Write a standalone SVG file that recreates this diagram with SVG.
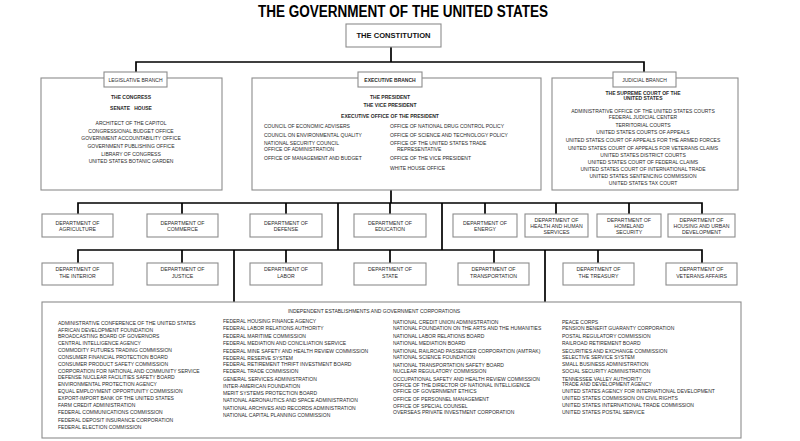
<svg xmlns="http://www.w3.org/2000/svg" width="800" height="441" viewBox="0 0 800 441">
<style>
text{font-family:"Liberation Sans",Arial,sans-serif;fill:#2a2a2a;font-size:5px}
.c{text-anchor:middle}
.b{font-weight:bold}
.d{font-size:5.2px;text-anchor:middle}
.box{fill:#fff;stroke:#8c8c8c;stroke-width:1.1}
.ln{stroke:#000;stroke-width:1.7;fill:none}
</style>
<rect width="800" height="441" fill="#fff"/>
<text x="403" y="17" class="c b" style="font-size:16px;fill:#000" textLength="290" lengthAdjust="spacingAndGlyphs">THE GOVERNMENT OF THE UNITED STATES</text>

<g id="connectors">
<path class="ln" d="M391 47V62M136 72V62H644V72M391 190V203M78 214V203H702V214M182 203V214M286 203V214M390 203V214M485 203V214M556 203V214M629 203V214M338 203V250M442 203V250M78 263V250H702V263M182 250V263M286 250V263M390 250V263M494 250V263M598 250V263M234 250V302M545 250V302"/>
</g>

<g id="constitution">
<rect class="box" x="346" y="24" width="95" height="23"/>
<text x="393.5" y="38" class="c b" style="font-size:7px;fill:#111" textLength="74" lengthAdjust="spacingAndGlyphs">THE CONSTITUTION</text>
</g>

<g id="legislative">
<rect class="box" x="41" y="78" width="181" height="112"/>
<rect class="box" x="104" y="72" width="63" height="15"/>
<text x="135.5" y="81.5" class="c">LEGISLATIVE BRANCH</text>
<text x="131" y="98.8" class="c b">THE CONGRESS</text>
<text x="131" y="109.8" class="c b" xml:space="preserve">SENATE   HOUSE</text>
<text x="131" y="124.8" class="c">ARCHITECT OF THE CAPITOL</text>
<text x="131" y="132.6" class="c">CONGRESSIONAL BUDGET OFFICE</text>
<text x="131" y="140.4" class="c">GOVERNMENT ACCOUNTABILITY OFFICE</text>
<text x="131" y="148.2" class="c">GOVERNMENT PUBLISHING OFFICE</text>
<text x="131" y="156" class="c">LIBRARY OF CONGRESS</text>
<text x="131" y="163" class="c">UNITED STATES BOTANIC GARDEN</text>
</g>

<g id="executive">
<rect class="box" x="252" y="78" width="289" height="112"/>
<rect class="box" x="358" y="72" width="64" height="15"/>
<text x="390" y="81.5" class="c b">EXECUTIVE BRANCH</text>
<text x="390" y="98.8" class="c b">THE PRESIDENT</text>
<text x="390" y="106.8" class="c b">THE VICE PRESIDENT</text>
<text x="390" y="117.8" class="c b">EXECUTIVE OFFICE OF THE PRESIDENT</text>
<text x="264" y="127.8">COUNCIL OF ECONOMIC ADVISERS</text>
<text x="264" y="136.8">COUNCIL ON ENVIRONMENTAL QUALITY</text>
<text x="264" y="144.6">NATIONAL SECURITY COUNCIL</text>
<text x="264" y="151.2">OFFICE OF ADMINISTRATION</text>
<text x="264" y="159.8">OFFICE OF MANAGEMENT AND BUDGET</text>
<text x="390" y="127.8">OFFICE OF NATIONAL DRUG CONTROL POLICY</text>
<text x="390" y="136.8">OFFICE OF SCIENCE AND TECHNOLOGY POLICY</text>
<text x="390" y="144.6">OFFICE OF THE UNITED STATES TRADE</text>
<text x="397" y="151.2">REPRESENTATIVE</text>
<text x="390" y="159.8">OFFICE OF THE VICE PRESIDENT</text>
<text x="390" y="169.5">WHITE HOUSE OFFICE</text>
</g>

<g id="judicial">
<rect class="box" x="552" y="78" width="186" height="112"/>
<rect class="box" x="613" y="72" width="63" height="15"/>
<text x="644.5" y="81.5" class="c">JUDICIAL BRANCH</text>
<text x="643" y="94.8" class="c b">THE SUPREME COURT OF THE</text>
<text x="643" y="100.3" class="c b">UNITED STATES</text>
<text x="643" y="112.8" class="c">ADMINISTRATIVE OFFICE OF THE UNITED STATES COURTS</text>
<text x="643" y="119" class="c">FEDERAL JUDICIAL CENTER</text>
<text x="643" y="126.6" class="c">TERRITORIAL COURTS</text>
<text x="643" y="134" class="c">UNITED STATES COURTS OF APPEALS</text>
<text x="643" y="141.8" class="c">UNITED STATES COURT OF APPEALS FOR THE ARMED FORCES</text>
<text x="643" y="149.8" class="c">UNITED STATES COURT OF APPEALS FOR VETERANS CLAIMS</text>
<text x="643" y="157.4" class="c">UNITED STATES DISTRICT COURTS</text>
<text x="643" y="164.4" class="c">UNITED STATES COURT OF FEDERAL CLAIMS</text>
<text x="643" y="171" class="c">UNITED STATES COURT OF INTERNATIONAL TRADE</text>
<text x="643" y="178.4" class="c">UNITED STATES SENTENCING COMMISSION</text>
<text x="643" y="184.8" class="c">UNITED STATES TAX COURT</text>
</g>

<g id="dept-agriculture"><rect class="box" x="42" y="214" width="71" height="23"/><text x="77.5" y="224.5" class="d">DEPARTMENT OF</text><text x="77.5" y="231" class="d">AGRICULTURE</text></g>
<g id="dept-commerce"><rect class="box" x="147" y="214" width="71" height="23"/><text x="182.5" y="224.5" class="d">DEPARTMENT OF</text><text x="182.5" y="231" class="d">COMMERCE</text></g>
<g id="dept-defense"><rect class="box" x="250" y="214" width="72" height="23"/><text x="286" y="224.5" class="d">DEPARTMENT OF</text><text x="286" y="231" class="d">DEFENSE</text></g>
<g id="dept-education"><rect class="box" x="354" y="214" width="72" height="23"/><text x="390" y="224.5" class="d">DEPARTMENT OF</text><text x="390" y="231" class="d">EDUCATION</text></g>
<g id="dept-energy"><rect class="box" x="453" y="214" width="64" height="23"/><text x="485" y="224.5" class="d">DEPARTMENT OF</text><text x="485" y="231" class="d">ENERGY</text></g>
<g id="dept-hhs"><rect class="box" x="525" y="214" width="63" height="23"/><text x="556.5" y="221.8" class="d">DEPARTMENT OF</text><text x="556.5" y="227.8" class="d">HEALTH AND HUMAN</text><text x="556.5" y="233.8" class="d">SERVICES</text></g>
<g id="dept-homeland"><rect class="box" x="597" y="214" width="64" height="23"/><text x="629" y="221.8" class="d">DEPARTMENT OF</text><text x="629" y="227.8" class="d">HOMELAND</text><text x="629" y="233.8" class="d">SECURITY</text></g>
<g id="dept-hud"><rect class="box" x="668" y="214" width="67" height="23"/><text x="701.5" y="221.8" class="d">DEPARTMENT OF</text><text x="701.5" y="227.8" class="d">HOUSING AND URBAN</text><text x="701.5" y="233.8" class="d">DEVELOPMENT</text></g>

<g id="dept-interior"><rect class="box" x="42" y="263" width="71" height="22"/><text x="77.5" y="271" class="d">DEPARTMENT OF</text><text x="77.5" y="277.6" class="d">THE INTERIOR</text></g>
<g id="dept-justice"><rect class="box" x="147" y="263" width="71" height="22"/><text x="182.5" y="271" class="d">DEPARTMENT OF</text><text x="182.5" y="277.6" class="d">JUSTICE</text></g>
<g id="dept-labor"><rect class="box" x="250" y="263" width="72" height="22"/><text x="286" y="271" class="d">DEPARTMENT OF</text><text x="286" y="277.6" class="d">LABOR</text></g>
<g id="dept-state"><rect class="box" x="354" y="263" width="72" height="22"/><text x="390" y="271" class="d">DEPARTMENT OF</text><text x="390" y="277.6" class="d">STATE</text></g>
<g id="dept-transportation"><rect class="box" x="458" y="263" width="71" height="22"/><text x="493.5" y="271" class="d">DEPARTMENT OF</text><text x="493.5" y="277.6" class="d">TRANSPORTATION</text></g>
<g id="dept-treasury"><rect class="box" x="563" y="263" width="71" height="22"/><text x="598.5" y="271" class="d">DEPARTMENT OF</text><text x="598.5" y="277.6" class="d">THE TREASURY</text></g>
<g id="dept-veterans"><rect class="box" x="666" y="263" width="71" height="22"/><text x="701.5" y="271" class="d">DEPARTMENT OF</text><text x="701.5" y="277.6" class="d">VETERANS AFFAIRS</text></g>

<g id="independent">
<rect class="box" x="42" y="302" width="699" height="136"/>
<text x="374" y="312.8" class="c">INDEPENDENT ESTABLISHMENTS AND GOVERNMENT CORPORATIONS</text>
<g>
<text x="58" y="324.8">ADMINISTRATIVE CONFERENCE OF THE UNITED STATES</text>
<text x="58" y="331.6">AFRICAN DEVELOPMENT FOUNDATION</text>
<text x="58" y="338.4">BROADCASTING BOARD OF GOVERNORS</text>
<text x="58" y="345.2">CENTRAL INTELLIGENCE AGENCY</text>
<text x="58" y="352">COMMODITY FUTURES TRADING COMMISSION</text>
<text x="58" y="358.8">CONSUMER FINANCIAL PROTECTION BOARD</text>
<text x="58" y="365.6">CONSUMER PRODUCT SAFETY COMMISSION</text>
<text x="58" y="372.6">CORPORATION FOR NATIONAL AND COMMUNITY SERVICE</text>
<text x="58" y="379.4">DEFENSE NUCLEAR FACILITIES SAFETY BOARD</text>
<text x="58" y="386">ENVIRONMENTAL PROTECTION AGENCY</text>
<text x="58" y="393.2">EQUAL EMPLOYMENT OPPORTUNITY COMMISSION</text>
<text x="58" y="400.4">EXPORT-IMPORT BANK OF THE UNITED STATES</text>
<text x="58" y="407.4">FARM CREDIT ADMINISTRATION</text>
<text x="58" y="414.4">FEDERAL COMMUNICATIONS COMMISSION</text>
<text x="58" y="421.6">FEDERAL DEPOSIT INSURANCE CORPORATION</text>
<text x="58" y="428.8">FEDERAL ELECTION COMMISSION</text>
</g>
<g>
<text x="223" y="322.8">FEDERAL HOUSING FINANCE AGENCY</text>
<text x="223" y="330.4">FEDERAL LABOR RELATIONS AUTHORITY</text>
<text x="223" y="337.8">FEDERAL MARITIME COMMISSION</text>
<text x="223" y="345.4">FEDERAL MEDIATION AND CONCILIATION SERVICE</text>
<text x="223" y="353">FEDERAL MINE SAFETY AND HEALTH REVIEW COMMISSION</text>
<text x="223" y="359.8">FEDERAL RESERVE SYSTEM</text>
<text x="223" y="366.4">FEDERAL RETIREMENT THRIFT INVESTMENT BOARD</text>
<text x="223" y="373">FEDERAL TRADE COMMISSION</text>
<text x="223" y="381.2">GENERAL SERVICES ADMINISTRATION</text>
<text x="223" y="387.8">INTER-AMERICAN FOUNDATION</text>
<text x="223" y="395.2">MERIT SYSTEMS PROTECTION BOARD</text>
<text x="223" y="401.8">NATIONAL AERONAUTICS AND SPACE ADMINISTRATION</text>
<text x="223" y="409.6">NATIONAL ARCHIVES AND RECORDS ADMINISTRATION</text>
<text x="223" y="417.2">NATIONAL CAPITAL PLANNING COMMISSION</text>
</g>
<g>
<text x="393" y="323.6">NATIONAL CREDIT UNION ADMINISTRATION</text>
<text x="393" y="330.2">NATIONAL FOUNDATION ON THE ARTS AND THE HUMANITIES</text>
<text x="393" y="337.8">NATIONAL LABOR RELATIONS BOARD</text>
<text x="393" y="344.6">NATIONAL MEDIATION BOARD</text>
<text x="393" y="352.6">NATIONAL RAILROAD PASSENGER CORPORATION (AMTRAK)</text>
<text x="393" y="359.2">NATIONAL SCIENCE FOUNDATION</text>
<text x="393" y="366.8">NATIONAL TRANSPORTATION SAFETY BOARD</text>
<text x="393" y="372.8">NUCLEAR REGULATORY COMMISSION</text>
<text x="393" y="380.8">OCCUPATIONAL SAFETY AND HEALTH REVIEW COMMISSION</text>
<text x="393" y="386.8">OFFICE OF THE DIRECTOR OF NATIONAL INTELLIGENCE</text>
<text x="393" y="392.8">OFFICE OF GOVERNMENT ETHICS</text>
<text x="393" y="400.8">OFFICE OF PERSONNEL MANAGEMENT</text>
<text x="393" y="407.8">OFFICE OF SPECIAL COUNSEL</text>
<text x="393" y="414.2">OVERSEAS PRIVATE INVESTMENT CORPORATION</text>
</g>
<g>
<text x="562" y="323.6">PEACE CORPS</text>
<text x="562" y="330.2">PENSION BENEFIT GUARANTY CORPORATION</text>
<text x="562" y="337.8">POSTAL REGULATORY COMMISSION</text>
<text x="562" y="344.6">RAILROAD RETIREMENT BOARD</text>
<text x="562" y="352.6">SECURITIES AND EXCHANGE COMMISSION</text>
<text x="562" y="359.2">SELECTIVE SERVICE SYSTEM</text>
<text x="562" y="365.8">SMALL BUSINESS ADMINISTRATION</text>
<text x="562" y="372.8">SOCIAL SECURITY ADMINISTRATION</text>
<text x="562" y="380.8">TENNESSEE VALLEY AUTHORITY</text>
<text x="562" y="385.8">TRADE AND DEVELOPMENT AGENCY</text>
<text x="562" y="392.8">UNITED STATES AGENCY FOR INTERNATIONAL DEVELOPMENT</text>
<text x="562" y="399.8">UNITED STATES COMMISSION ON CIVIL RIGHTS</text>
<text x="562" y="406.8">UNITED STATES INTERNATIONAL TRADE COMMISSION</text>
<text x="562" y="413.8">UNITED STATES POSTAL SERVICE</text>
</g>
</g>
</svg>
